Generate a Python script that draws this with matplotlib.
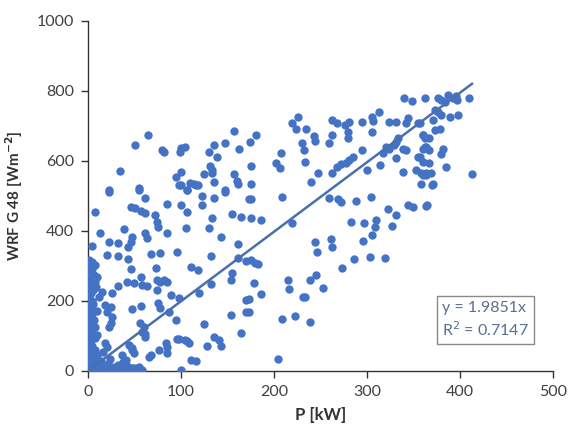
import matplotlib
matplotlib.use("Agg")
import numpy as np
import matplotlib.pyplot as plt

# Power output P [kW] vs WRF irradiance G [W/m2]
p_kw = [
    # upper left / middle cloud
    64.7, 51, 34.5, 23, 55, 80, 82, 99, 100.5, 105, 95, 100, 100, 110, 116, 107,
    125, 130, 136, 139, 131, 133, 134, 136, 147, 157, 163, 157, 160, 147, 174, 181,
    175, 175,
    # upper middle
    202, 206.5, 207.6, 219.5, 224, 226, 235, 230, 232, 243.5, 244, 233, 247, 240,
    263, 267.6, 276, 281, 263, 259, 280, 280, 294.5, 305.7, 307, 313, 305, 294.5,
    285, 281, 278, 272, 267.6, 263, 300, 313.6, 317, 321, 324, 329, 331.5, 333,
    324, 331.5, 342, 344, 339.5, 348, 363, 355, 331.5, 339, 342, 339, 353, 355,
    360, 363, 360, 364, 360, 360, 364, 358.5,
    # upper right
    376, 380, 383.6, 387, 392.6, 396, 397, 410, 373, 376, 380, 389, 398, 357, 371,
    373, 379, 360, 367, 362, 367, 357, 382, 380, 367, 385, 358.5, 364, 369, 371,
    413, 370, 364.5,
    # middle band
    175, 209, 259, 269, 272, 288, 304, 322.5, 331.5, 344, 349.5, 364, 175, 186,
    219.5, 283, 297, 310, 309, 327, 305, 295.6, 244, 246, 261.5, 262.6, 175, 180,
    183.5, 286.6, 303, 320, 273, 179, 215.5, 216.6, 239, 245, 253, 186, 231, 233.5,
    173.5, 173.5, 208.7, 222.7, 239, 205,
    # lower left cloud
    23, 55, 61, 98, 107, 114, 118, 123, 136, 147, 161, 173.5, 8, 46, 51, 57, 61,
    72, 74, 76, 85.5, 100, 107, 123, 134, 155.5, 165, 12.6, 39, 48, 46, 43.5, 62,
    64, 85, 106, 130, 143, 161, 4, 23, 32, 1, 5, 7.5, 21, 33, 43.5, 67.5, 77.6,
    95.5, 132, 46, 73, 110.6, 118, 161, 170, 155.5, 6.5, 10, 8, 42, 49.6, 57, 58,
    64, 32.6, 74.7, 78, 82, 85.5, 74.7, 89, 98, 120, 132, 154, 15, 26, 19, 24.5,
    21, 26, 24.5, 22.6, 48, 57, 76, 78, 87, 56, 60, 58.5, 62, 8, 10, 18, 21, 94.5,
    98, 107, 109, 76.5, 85.5, 85.5, 66, 67.5, 47, 49.6, 110.6, 116, 125, 128.5,
    136, 141, 143, 164.5, 154, 170, 170, 37, 40.6, 100, 62, 44, 48, 84, 96, 105,
    39, 46, 51,
    # dense strip near zero
    0, 1, 2, 0, 3, 1, 4, 2, 0, 5, 1, 3, 0, 2, 4, 1, 0, 3, 5, 2, 0, 4, 1, 3, 0, 2,
    5, 1, 0, 3, 6, 2, 4, 1, 6, 3, 0, 5, 2, 0, 8, 9, 7, 8, 10, 6, 12, 9, 11,
    # bottom band
    5, 8, 12, 15, 18, 20, 22, 25, 28, 30, 32, 35, 38, 40, 42, 45, 48, 52, 55, 58,
    14, 24, 10, 16, 26, 34, 6,
]
g_wrf = [
    673, 645, 570, 516, 522, 632, 626, 626, 637, 638, 554, 567, 531, 537, 531, 516,
    561, 626, 645, 611, 586, 573, 564, 538, 651, 686, 633, 561, 543, 516, 654, 673,
    586, 535,
    593, 578, 623, 707, 692, 725, 692, 652, 630, 670, 656, 597, 564, 538,
    716, 707, 702, 711, 673, 650, 683, 666, 711, 726, 713, 738, 681, 630,
    611, 602, 593, 591, 583, 564, 573, 588, 621, 640, 635, 645, 654, 664,
    711, 711, 707, 721, 778, 771, 780, 707, 607, 635, 630, 567, 573, 611,
    673, 664, 635, 640, 597, 559, 564, 535,
    778, 773, 768, 787, 778, 784, 773, 780, 745, 740, 730, 726, 732, 707, 716,
    688, 692, 673, 664, 638, 632, 611, 635, 619, 593, 583, 564, 559, 564, 535,
    561, 531, 474,
    492, 497, 495, 490, 483, 486, 497, 461, 445, 474, 469, 471, 436, 431,
    421, 426, 423, 431, 410, 414, 388, 372, 369, 340, 376, 355, 317, 309,
    305, 319, 324, 321, 293, 252, 260, 233, 260, 274, 238, 219, 212, 212,
    205, 169, 149, 157, 141, 34,
    512, 518, 493, 531, 516, 534, 531, 499, 493, 512, 535, 492, 455, 469, 464, 457, 450,
    445, 426, 412, 476, 474, 455, 474, 436, 447, 440, 393, 405, 383, 369, 355, 393,
    379, 393, 409, 407, 381, 362, 357, 367, 364, 317, 312, 302, 331, 328, 319, 334, 338,
    340, 328, 290, 293, 298, 288, 321, 314, 280, 274, 269, 255, 255, 250, 269, 245,
    243, 243, 260, 255, 260, 255, 231, 217, 207, 222, 248, 260, 226, 223, 188, 183,
    169, 155, 136, 126, 176, 185, 193, 179, 169, 136, 126, 112, 98, 126, 103, 79, 69, 146,
    90, 86, 79, 60, 69, 50, 41, 46, 60, 50, 31, 27, 134, 71,
    98, 88, 72, 107, 160, 203, 169, 46, 31, 2, 105, 74, 64, 79, 91, 88,
    8, 8, 8,
    5, 12, 20, 28, 35, 42, 50, 58, 65, 72, 80, 88, 95, 102, 110, 118, 125, 132, 140, 148,
    155, 162, 170, 178, 185, 192, 200, 208, 215, 222, 230, 238, 245, 252, 262, 270, 280,
    290, 298, 310, 60, 30, 145, 95, 170, 190, 210, 240, 15,
    2, 10, 4, 15, 3, 8, 20, 5, 12, 2, 18, 6, 25, 3, 14, 2, 8, 4, 12, 3,
    28, 35, 45, 55, 2, 0, 38,
]

slope = 1.9851
r2 = 0.7147

blue = "#4472C4"

plt.rcParams['font.family'] = ['Lato', 'DejaVu Sans']

fig = plt.figure(figsize=(5.70, 4.41), dpi=100)
ax = fig.add_axes([0.154, 0.159, 0.816, 0.794])

ax.scatter(p_kw, g_wrf, s=36, color=blue, linewidths=0, zorder=3)

# linear trendline through origin
x_fit = np.array([0, max(p_kw)])
ax.plot(x_fit, slope * x_fit, color="#4A6FAE", lw=1.8, zorder=4)

ax.set_xlim(0, 500)
ax.set_ylim(0, 1000)
ax.set_xticks(range(0, 501, 100))
ax.set_yticks(range(0, 1001, 200))

for side in ["top", "right"]:
    ax.spines[side].set_visible(False)
for side in ["left", "bottom"]:
    ax.spines[side].set_color("#333333")
    ax.spines[side].set_linewidth(1.0)

ax.tick_params(direction="out", length=5, width=1, color="#333333",
               labelsize=11.5, labelcolor="#404040", pad=5)
ax.set_xlabel("P [kW]", fontsize=12, fontweight="bold", color="#333333", labelpad=6)
ax.set_ylabel("WRF G 48 [Wm$^{\\mathbf{-2}}$]", fontsize=11, fontweight="bold",
              color="#333333", labelpad=8)

ax.text(0.762, 0.200, "y = %.4fx\nR$^2$ = %.4f" % (slope, r2), transform=ax.transAxes,
        fontsize=11.5, color="#5a6f94", va="top", ha="left", linespacing=1.35,
        bbox=dict(boxstyle="square,pad=0.3", fc="white", ec="#8a8a8a", lw=1))

fig.savefig("out.png", dpi=100)
